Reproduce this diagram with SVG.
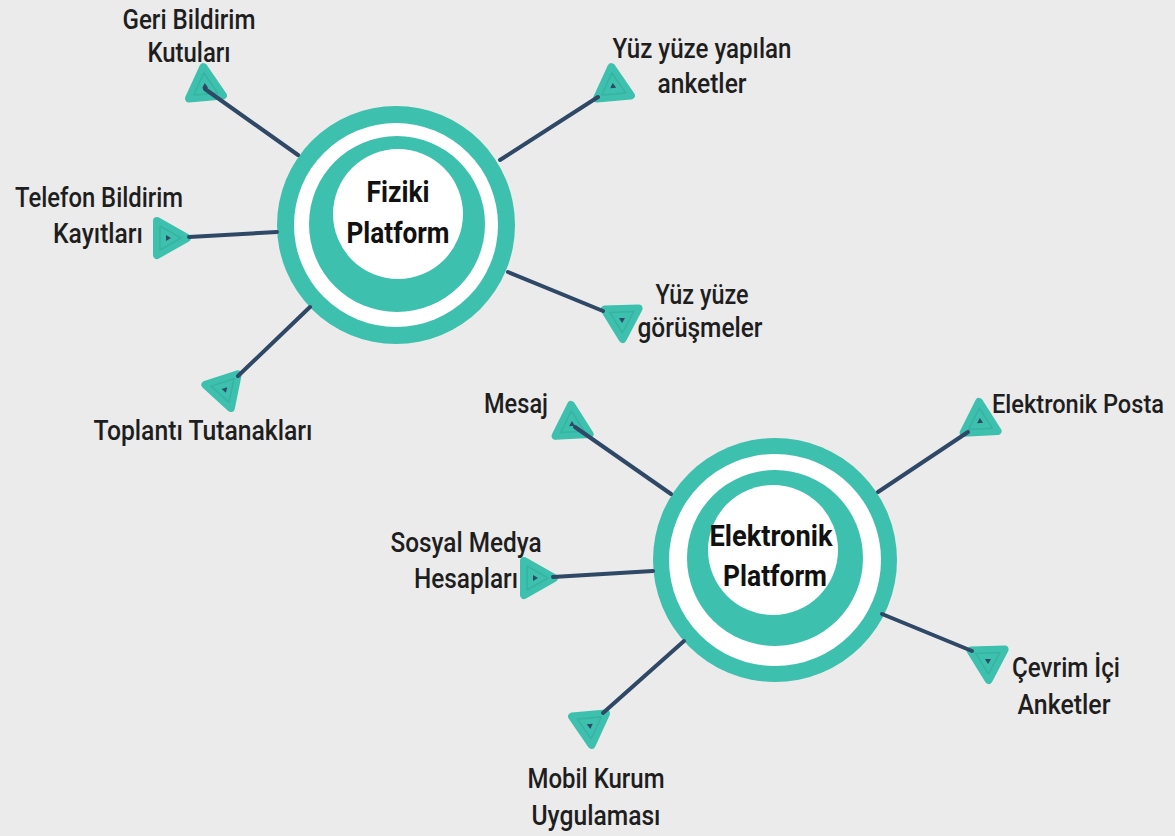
<svg xmlns="http://www.w3.org/2000/svg" xmlns:xlink="http://www.w3.org/1999/xlink" width="1175" height="836" viewBox="0 0 1175 836">
<style>
.lbl{font-family:Roboto,"Liberation Sans",sans-serif;font-size:28px;font-weight:500;fill:#1e1e1e;text-anchor:middle}
.hub{font-family:Roboto,"Liberation Sans",sans-serif;font-size:29px;font-weight:bold;fill:#111;text-anchor:middle}
.conn{stroke:#2e4866;stroke-width:4;stroke-linecap:round;fill:none}
.teal{fill:#3ec0ae}
.white{fill:#ffffff}
</style>
<defs>
<g id="tri">
<polygon points="0,-19 17,11 -17,11" fill="#3ec0ae" stroke="#3ec0ae" stroke-width="8" stroke-linejoin="round"/>
<polygon points="0,-13 12,8 -12,8" fill="none" stroke="#37b3a2" stroke-width="1.5" stroke-linejoin="round"/>
<polygon points="0,-3 3,2 -3,2" fill="#2e4866"/>
</g>
</defs>
<rect width="1175" height="836" fill="#ebebeb"/>
<g id="fiziki">
<circle cx="396" cy="225" r="119" class="teal"/>
<circle cx="396" cy="225" r="102" class="white"/>
<circle cx="397" cy="224" r="88" class="teal"/>
<circle cx="398" cy="214" r="65" class="white"/>
<text class="hub" x="398" y="202" textLength="63" lengthAdjust="spacingAndGlyphs">Fiziki</text>
<text class="hub" x="398" y="243" textLength="103" lengthAdjust="spacingAndGlyphs">Platform</text>
</g>
<g id="elektronik">
<circle cx="775" cy="560" r="122" class="teal"/>
<circle cx="775" cy="560" r="106" class="white"/>
<circle cx="775" cy="558" r="88" class="teal"/>
<circle cx="773" cy="550" r="65" class="white"/>
<text class="hub" x="771" y="546" textLength="123" lengthAdjust="spacingAndGlyphs">Elektronik</text>
<text class="hub" x="775" y="586" textLength="104" lengthAdjust="spacingAndGlyphs">Platform</text>
</g>
<g id="n-geri"><use xlink:href="#tri" transform="translate(205,86) rotate(-5)"/>
<text class="lbl" x="189" y="29" textLength="133" lengthAdjust="spacingAndGlyphs">Geri Bildirim</text>
<text class="lbl" x="189" y="62" textLength="83" lengthAdjust="spacingAndGlyphs">Kutuları</text></g>
<g id="n-telefon"><use xlink:href="#tri" transform="translate(168,238) rotate(90)"/>
<text class="lbl" x="99" y="207" textLength="168" lengthAdjust="spacingAndGlyphs">Telefon Bildirim</text>
<text class="lbl" x="98" y="243" textLength="90" lengthAdjust="spacingAndGlyphs">Kayıtları</text></g>
<g id="n-yapilan"><use xlink:href="#tri" transform="translate(613,86) rotate(-5)"/>
<text class="lbl" x="702" y="58" textLength="179" lengthAdjust="spacingAndGlyphs">Yüz yüze yapılan</text>
<text class="lbl" x="702" y="93" textLength="89" lengthAdjust="spacingAndGlyphs">anketler</text></g>
<g id="n-gorusme"><use xlink:href="#tri" transform="translate(622,320) rotate(178)"/>
<text class="lbl" x="702" y="304" textLength="93" lengthAdjust="spacingAndGlyphs">Yüz yüze</text>
<text class="lbl" x="700" y="337" textLength="125" lengthAdjust="spacingAndGlyphs">görüşmeler</text></g>
<g id="n-toplanti"><use xlink:href="#tri" transform="translate(225,390) rotate(162)"/>
<text class="lbl" x="203" y="440" textLength="219" lengthAdjust="spacingAndGlyphs">Toplantı Tutanakları</text></g>
<g id="n-mesaj"><use xlink:href="#tri" transform="translate(572,424) rotate(-3)"/>
<text class="lbl" x="516" y="413" textLength="64" lengthAdjust="spacingAndGlyphs">Mesaj</text></g>
<g id="n-posta"><use xlink:href="#tri" transform="translate(980,421) rotate(-3)"/>
<text class="lbl" x="1164" y="413" style="text-anchor:end;font-size:25px" textLength="172" lengthAdjust="spacingAndGlyphs">Elektronik Posta</text></g>
<g id="n-sosyal"><use xlink:href="#tri" transform="translate(535,578) rotate(90)"/>
<text class="lbl" x="466" y="552" textLength="151" lengthAdjust="spacingAndGlyphs">Sosyal Medya</text>
<text class="lbl" x="466" y="588" textLength="104" lengthAdjust="spacingAndGlyphs">Hesapları</text></g>
<g id="n-cevrim"><use xlink:href="#tri" transform="translate(988,661) rotate(178)"/>
<text class="lbl" x="1066" y="677" textLength="108" lengthAdjust="spacingAndGlyphs">Çevrim İçi</text>
<text class="lbl" x="1064" y="714" textLength="93" lengthAdjust="spacingAndGlyphs">Anketler</text></g>
<g id="n-mobil"><use xlink:href="#tri" transform="translate(590,726) rotate(175)"/>
<text class="lbl" x="596" y="788" textLength="137" lengthAdjust="spacingAndGlyphs">Mobil Kurum</text>
<text class="lbl" x="596" y="825" textLength="129" lengthAdjust="spacingAndGlyphs">Uygulaması</text></g>
<g id="connectors">
<line class="conn" x1="298" y1="155" x2="205" y2="89"/>
<line class="conn" x1="277" y1="232" x2="189" y2="237"/>
<line class="conn" x1="500" y1="160" x2="598" y2="97"/>
<line class="conn" x1="508" y1="272" x2="603" y2="311"/>
<line class="conn" x1="310" y1="307" x2="238" y2="376"/>
<line class="conn" x1="671" y1="494" x2="575" y2="427"/>
<line class="conn" x1="878" y1="492" x2="968" y2="432"/>
<line class="conn" x1="653" y1="571" x2="553" y2="577"/>
<line class="conn" x1="882" y1="614" x2="972" y2="651"/>
<line class="conn" x1="684" y1="641" x2="603" y2="713"/>
</g>
</svg>
